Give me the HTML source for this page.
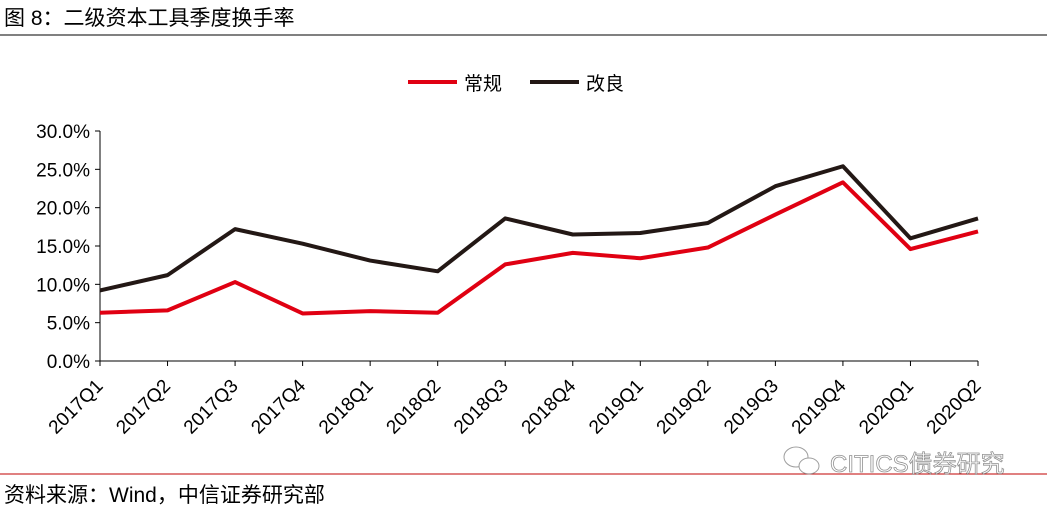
<!DOCTYPE html>
<html><head><meta charset="utf-8">
<style>
body{margin:0;background:#fff;width:1047px;height:511px;overflow:hidden;font-family:"Liberation Sans","Noto Sans CJK SC",sans-serif;}
</style></head>
<body>
<svg width="1047" height="511" xmlns="http://www.w3.org/2000/svg" font-family="Liberation Sans, Noto Sans CJK SC, sans-serif">
<text x="4" y="25" font-size="21" fill="#000">图 8：二级资本工具季度换手率</text>
<line x1="0" y1="35" x2="1047" y2="35" stroke="#000" stroke-width="1"/>
<g>
<line x1="408" y1="82" x2="457" y2="82" stroke="#e00012" stroke-width="4"/>
<text x="464" y="90" font-size="19">常规</text>
<line x1="530" y1="82" x2="579" y2="82" stroke="#231815" stroke-width="4"/>
<text x="586" y="90" font-size="19">改良</text>
</g>
<g id="axes"></g>
<g id="series"></g>
<line x1="0" y1="474" x2="1047" y2="474" stroke="#c00000" stroke-width="1"/>
<g opacity="0.8">
<ellipse cx="796" cy="457" rx="12" ry="10" fill="#fff" stroke="#888"/>
<ellipse cx="809" cy="466" rx="10" ry="8" fill="#fff" stroke="#888"/>
<text x="830" y="472" font-size="24" fill="#fff" stroke="#777" stroke-width="0.8">CITICS债券研究</text>
</g>
<text x="4" y="502" font-size="21" fill="#000">资料来源：Wind，中信证券研究部</text>
</svg>
<script>
const categories=["2017Q1","2017Q2","2017Q3","2017Q4","2018Q1","2018Q2","2018Q3","2018Q4","2019Q1","2019Q2","2019Q3","2019Q4","2020Q1","2020Q2"];
const regular=[6.3,6.6,10.3,6.2,6.5,6.3,12.6,14.1,13.4,14.8,19.1,23.3,14.6,16.9];
const improved=[9.2,11.2,17.2,15.3,13.1,11.7,18.6,16.5,16.7,18.0,22.8,25.4,16.0,18.6];
const yTicks=[0,5,10,15,20,25,30];
const NS="http://www.w3.org/2000/svg";
const x0=100,x1=978,yb=361,yt=131,ymax=30;
const xs=i=>x0+i*(x1-x0)/(categories.length-1);
const ys=v=>yb-(v/ymax)*(yb-yt);
function mk(t,a,p){const e=document.createElementNS(NS,t);for(const k in a)e.setAttribute(k,a[k]);p.appendChild(e);return e;}
const ax=document.getElementById('axes');
const yl=mk('line',{x1:x0,y1:yt,x2:x0,y2:yb,stroke:'#000'},ax);


const xl=mk('line',{x1:x0,y1:yb,x2:x1,y2:yb,stroke:'#000'},ax);


yTicks.forEach(v=>{
 mk('line',{x1:x0-5,y1:ys(v),x2:x0,y2:ys(v),stroke:'#000'},ax);
 const t=mk('text',{x:x0-10,y:ys(v)+7,'font-size':19,'text-anchor':'end'},ax);
 t.textContent=v.toFixed(1)+'%';
 
 
});
categories.forEach((c,i)=>{
 const x=xs(i);
 mk('line',{x1:x,y1:yb,x2:x,y2:yb+5,stroke:'#000'},ax);
 const t=mk('text',{x:x+4,y:yb+26,'font-size':19,'text-anchor':'end',transform:`rotate(-45 ${x+4} ${yb+26})`},ax);
 t.textContent=c;
 
 
});
const sg=document.getElementById('series');
function line(d,col,name){
 const p=mk('polyline',{points:d.map((v,i)=>xs(i)+','+ys(v)).join(' '),fill:'none',stroke:col,'stroke-width':4,'stroke-linejoin':'round'},sg);
 
 
}
line(regular,'#e00012','regular-line');
line(improved,'#231815','improved-line');
</script>
</body></html>
